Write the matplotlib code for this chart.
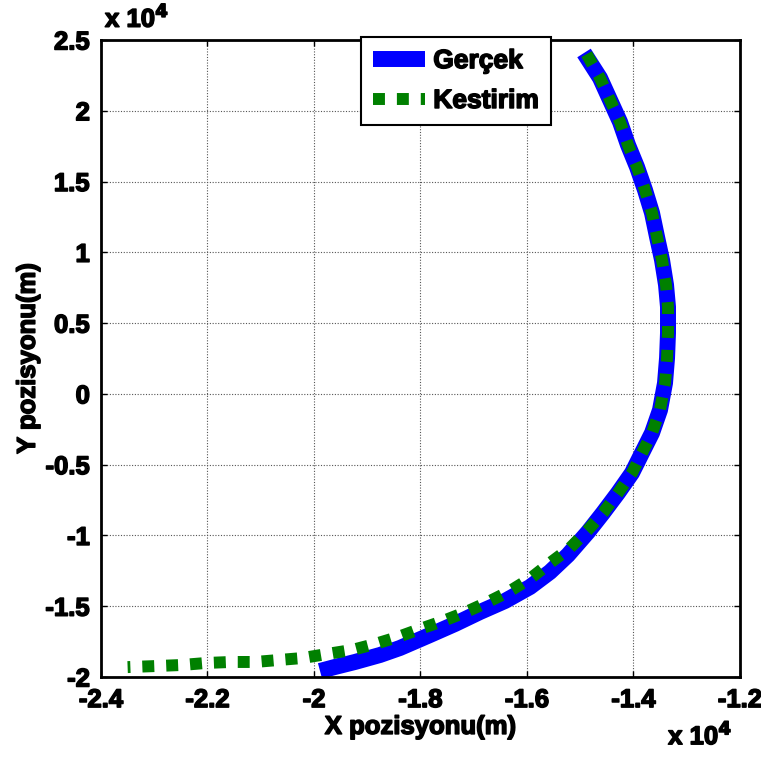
import matplotlib
matplotlib.use("Agg")
from matplotlib import pyplot as plt
from matplotlib import patheffects as pe

# Gerçek (true) trajectory, metres
gercek_x = [-14929, -14629, -14441, -14253, -14103, -13934, -13784, -13652, -13558,
            -13464, -13389, -13352, -13352, -13370, -13408, -13502, -13652, -13878,
            -14028, -14291, -14573, -14854, -15230, -15568, -15943, -16413, -16882,
            -17352, -17821, -18385, -18760, -19230, -19606, -19887]
gercek_y = [24082, 22316, 20762, 19208, 17583, 16029, 14404, 12779, 11084,
            9459, 7693, 6139, 4302, 2536, 770, -1137, -2762, -4457,
            -5587, -7000, -8413, -9755, -11380, -12580, -13640, -14629, -15406,
            -16254, -17031, -17949, -18444, -18938, -19291, -19574]

# Kestirim (estimate) trajectory, metres
kestirim_x = [-14880, -14629, -14441, -14253, -14103, -13934, -13784, -13652, -13558,
              -13464, -13389, -13352, -13352, -13370, -13408, -13502, -13652, -13878,
              -14028, -14291, -14573, -14854, -15192, -15568, -15925, -16319, -16732,
              -17145, -17577, -18009, -18422, -18854, -19286, -19756, -20206, -20657,
              -21108, -21559, -22028, -22479, -22930, -23500]
kestirim_y = [24000, 22316, 20762, 19208, 17583, 16029, 14404, 12779, 11084,
              9459, 7693, 6139, 4302, 2536, 770, -1137, -2762, -4457,
              -5587, -7000, -8413, -9600, -10885, -11945, -13004, -13923, -14700,
              -15406, -16042, -16607, -17172, -17667, -18090, -18373, -18656, -18797,
              -18938, -18938, -19009, -19150, -19220, -19300]

x_ticks = [-24000, -22000, -20000, -18000, -16000, -14000, -12000]
x_tick_labels = ["-2.4", "-2.2", "-2", "-1.8", "-1.6", "-1.4", "-1.2"]
y_ticks = [-20000, -15000, -10000, -5000, 0, 5000, 10000, 15000, 20000, 25000]
y_tick_labels = ["-2", "-1.5", "-1", "-0.5", "0", "0.5", "1", "1.5", "2", "2.5"]

plt.rcParams["font.family"] = ["Liberation Sans", "DejaVu Sans"]
plt.rcParams["font.weight"] = "bold"

# heavier strokes so the bold text looks like the original
heavy = [pe.withStroke(linewidth=1.1, foreground="black")]

fig = plt.figure(figsize=(7.61, 7.60), dpi=100)
ax = fig.add_axes([0.1327, 0.1092, 0.8397, 0.8382])

ax.plot(gercek_x, gercek_y, color="#0000ff", linewidth=11.5,
        solid_capstyle="butt", label="Gerçek")
ax.plot(kestirim_x, kestirim_y, color="#008000", linewidth=8.6,
        linestyle=(0, (1, 1)), dash_capstyle="butt", label="Kestirim")

ax.set_xlim(-24000, -12000)
ax.set_ylim(-20000, 25000)
ax.set_xticks(x_ticks)
ax.set_xticklabels(x_tick_labels)
ax.set_yticks(y_ticks)
ax.set_yticklabels(y_tick_labels)
ax.tick_params(direction="in", length=4, width=1, labelsize=18.5, pad=8,
               top=True, right=True)
for lab in ax.get_xticklabels() + ax.get_yticklabels():
    lab.set_fontweight("bold")
    lab.set_path_effects(heavy)

ax.grid(True, color="#555555", linestyle=(0, (1, 1.5)), linewidth=0.8)
for sp in ax.spines.values():
    sp.set_linewidth(2)

ax.set_xlabel("X pozisyonu(m)", fontsize=18.5, fontweight="bold", labelpad=2,
              path_effects=heavy)
ax.set_ylabel("Y pozisyonu(m)", fontsize=18.5, fontweight="bold", labelpad=4,
              path_effects=heavy)

fig.text(0.138, 0.958, r"x 10$^{\mathbf{4}}$", fontsize=18.5, fontweight="bold",
         ha="left", va="bottom", path_effects=heavy)
fig.text(0.878, 0.014, r"x 10$^{\mathbf{4}}$", fontsize=18.5, fontweight="bold",
         ha="left", va="bottom", path_effects=heavy)

leg = ax.legend(loc="upper left", bbox_to_anchor=(0.474, 0.951),
                bbox_transform=fig.transFigure, borderaxespad=0,
                fontsize=19, fancybox=False, framealpha=1, edgecolor="black",
                handlelength=2.0, handletextpad=0.3, labelspacing=0.6,
                borderpad=0.45)
leg.get_frame().set_linewidth(1.5)
for t in leg.get_texts():
    t.set_fontweight("bold")
    t.set_path_effects(heavy)

fig.savefig("out.png", dpi=100)
